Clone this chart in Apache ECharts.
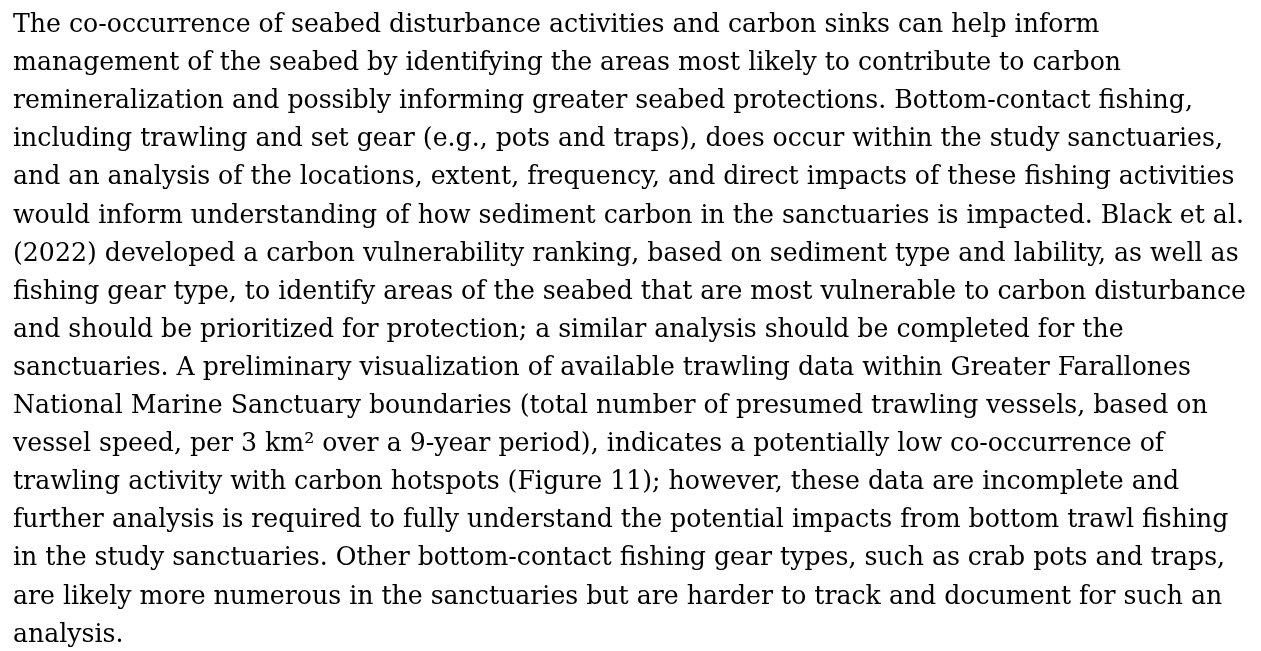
<!DOCTYPE html>
<html>
<head>
<meta charset="utf-8">
<script src="https://cdn.jsdelivr.net/npm/echarts@6/dist/echarts.min.js"></script>
<style>
  html, body { margin: 0; padding: 0; background: #fff; }
  #main { width: 1261px; height: 651px; }
</style>
</head>
<body>
<div id="main"></div>
<script>
// paragraph, one entry per printed line
var lines = [
  'The co-occurrence of seabed disturbance activities and carbon sinks can help inform',
  'management of the seabed by identifying the areas most likely to contribute to carbon',
  'remineralization and possibly informing greater seabed protections. Bottom-contact fishing,',
  'including trawling and set gear (e.g., pots and traps), does occur within the study sanctuaries,',
  'and an analysis of the locations, extent, frequency, and direct impacts of these fishing activities',
  'would inform understanding of how sediment carbon in the sanctuaries is impacted. Black et al.',
  '(2022) developed a carbon vulnerability ranking, based on sediment type and lability, as well as',
  'fishing gear type, to identify areas of the seabed that are most vulnerable to carbon disturbance',
  'and should be prioritized for protection; a similar analysis should be completed for the',
  'sanctuaries. A preliminary visualization of available trawling data within Greater Farallones',
  'National Marine Sanctuary boundaries (total number of presumed trawling vessels, based on',
  'vessel speed, per 3 km\u00b2 over a 9-year period), indicates a potentially low co-occurrence of',
  'trawling activity with carbon hotspots (Figure 11); however, these data are incomplete and',
  'further analysis is required to fully understand the potential impacts from bottom trawl fishing',
  'in the study sanctuaries. Other bottom-contact fishing gear types, such as crab pots and traps,',
  'are likely more numerous in the sanctuaries but are harder to track and document for such an',
  'analysis.'
];

var chart = echarts.init(document.getElementById('main'));

var fontSize = 25.2;
var lineGap = 38.1;   // line to line
var firstTop = 13;

chart.setOption({
  backgroundColor: '#fff',
  graphic: lines.map(function (t, i) {
    return {
      type: 'text',
      x: 13,
      y: firstTop + i * lineGap,
      style: {
        text: t,
        font: fontSize + 'px "DejaVu Serif"',
        fill: '#000',
        align: 'left',
        verticalAlign: 'top'
      }
    };
  })
});
</script>
</body>
</html>
